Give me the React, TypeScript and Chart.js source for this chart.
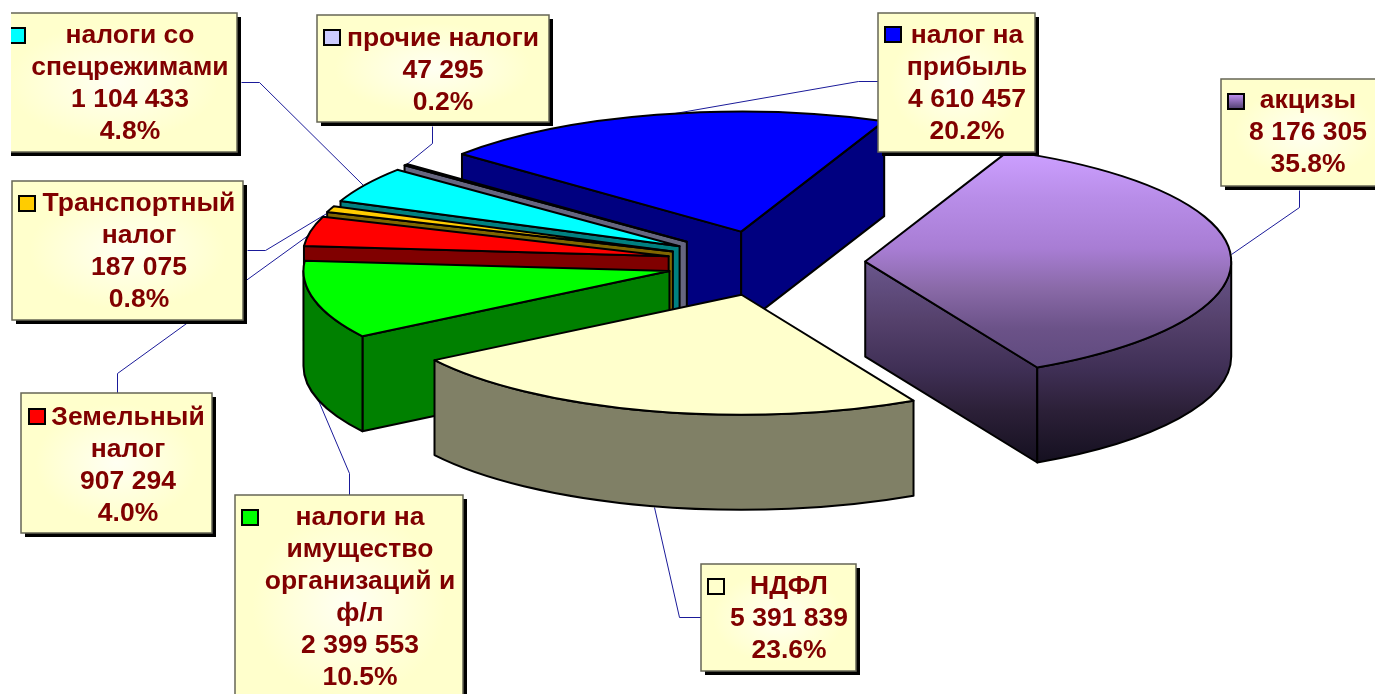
import React, { useEffect, useRef } from "react";
import { Chart, registerables } from "chart.js";

Chart.register(...registerables);

const categories = [
  "акцизы",
  "НДФЛ",
  "налоги на имущество организаций и ф/л",
  "Земельный налог",
  "Транспортный налог",
  "налоги со спецрежимами",
  "прочие налоги",
  "налог на прибыль",
];
const values = [8176305, 5391839, 2399553, 907294, 187075, 1104433, 47295, 4610457];
const percents = ["35.8%", "23.6%", "10.5%", "4.0%", "0.8%", "4.8%", "0.2%", "20.2%"];
const nameLines = [
  ["акцизы"],
  ["НДФЛ"],
  ["налоги на", "имущество", "организаций и", "ф/л"],
  ["Земельный", "налог"],
  ["Транспортный", "налог"],
  ["налоги со", "спецрежимами"],
  ["прочие налоги"],
  ["налог на", "прибыль"],
];
const topColors = ["#cc99ff", "#ffffcc", "#00ff00", "#ff0000", "#ffcc00", "#00ffff", "#ccccff", "#0000ff"];
const wallColors = ["#665080", "#808066", "#008000", "#800000", "#806600", "#008080", "#666680", "#000080"];
const paintOrder = [7, 6, 5, 4, 3, 2, 0, 1];
const explodes = [81, 82, 82, 82, 82, 82, 83, 84.5];
const nudges = [[0, 0], [0, 0], [0, 0], [0, 0], [0, 0], [-1, 0], [-2, 0], [-1.5, 1.5]];

// label layout: box x, y, w, h, text centre, first baseline, key x, key y
const labelLayout = [
  { x: 1221, y: 79, w: 170, h: 107, cx: 1308, base: 108, kx: 1227, ky: 93 },
  { x: 701, y: 564, w: 155, h: 107, cx: 789, base: 594, kx: 707, ky: 578 },
  { x: 235, y: 495, w: 228, h: 220, cx: 360, base: 525, kx: 241, ky: 509 },
  { x: 21, y: 393, w: 191, h: 140, cx: 128, base: 425, kx: 28, ky: 408 },
  { x: 12, y: 181, w: 231, h: 139, cx: 139, base: 211, kx: 18, ky: 195 },
  { x: -10, y: 13, w: 247, h: 139, cx: 130, base: 43, kx: 8, ky: 27 },
  { x: 317, y: 15, w: 232, h: 107, cx: 443, base: 46, kx: 323, ky: 29 },
  { x: 878, y: 13, w: 157, h: 139, cx: 967, base: 43, kx: 884, ky: 26 },
];
const leaders = [
  [[1299, 190], [1299, 207], [1231, 254]],
  [[701, 617], [679, 617], [654, 507]],
  [[349, 495], [349, 473], [315, 393]],
  [[117, 394], [117, 373], [312, 232]],
  [[247, 250], [265, 250], [328, 212]],
  [[241, 82], [259, 82], [363, 185]],
  [[432, 126], [432, 143], [405, 165]],
  [[878, 81], [858, 81], [600, 126]],
];

const PIE_X = 766.5;
const PIE_Y = 263;
const RX = 366;
const RY = 120;
const DEPTH = 95;
const RADIUS = 300;
const TEXT_STRETCH = 1.06;
const FONT = 'bold 25px "Liberation Sans", Arial, sans-serif';

const fmt = (v: number) => String(v).replace(/\B(?=(\d{3})+(?!\d))/g, " ");

function purpleStops(g: CanvasGradient) {
  g.addColorStop(0, "#d2a4ff");
  g.addColorStop(0.05, "#cc9fff");
  g.addColorStop(0.235, "#b88de8");
  g.addColorStop(0.445, "#a87dd4");
  g.addColorStop(0.61, "#8a6aa8");
  g.addColorStop(0.78, "#6b5288");
  g.addColorStop(0.94, "#5f4a7e");
  g.addColorStop(1, "#5a4678");
  return g;
}

const pie3d = {
  id: "pie3d",
  beforeDatasetsDraw(chart: any) {
    const ctx: CanvasRenderingContext2D = chart.ctx;
    const arcs = chart.getDatasetMeta(0).data;
    ctx.save();
    ctx.strokeStyle = "#1a1a99";
    ctx.lineWidth = 1;
    leaders.forEach((pts) => {
      ctx.beginPath();
      pts.forEach((p, i) => (i ? ctx.lineTo(p[0] + 0.5, p[1] + 0.5) : ctx.moveTo(p[0] + 0.5, p[1] + 0.5)));
      ctx.stroke();
    });
    ctx.restore();

    const sx = RX / RADIUS;
    const sy = RY / RADIUS;
    paintOrder.forEach((i) => {
      const arc = arcs[i];
      const a1 = arc.startAngle;
      const a2 = arc.endAngle;
      const mid = (a1 + a2) / 2;
      const ex = explodes[i];
      const [nx, ny] = nudges[i];
      const ax = PIE_X + nx + Math.cos(mid) * ex * sx;
      const ay = PIE_Y + ny + Math.sin(mid) * ex * sy;
      const pt = (a: number) => [ax + Math.cos(a) * RX, ay + Math.sin(a) * RY];
      let wall: any = wallColors[i];
      if (i === 0) {
        const g = ctx.createLinearGradient(0, 262, 0, 462);
        g.addColorStop(0, "#6a568c");
        g.addColorStop(0.29, "#55416c");
        g.addColorStop(0.54, "#3f2f55");
        g.addColorStop(0.74, "#2c2038");
        g.addColorStop(1, "#151020");
        wall = g;
      }
      ctx.save();
      ctx.lineWidth = 2;
      ctx.lineJoin = "round";
      ctx.strokeStyle = "#000";
      ctx.fillStyle = wall;
      // only the radial faces turned towards the viewer are painted
      [
        { a: a1, n: a1 - Math.PI / 2 },
        { a: a2, n: a2 + Math.PI / 2 },
      ].forEach(({ a, n }) => {
        if (Math.sin(n) <= 0) return;
        const p = pt(a);
        ctx.beginPath();
        ctx.moveTo(ax, ay);
        ctx.lineTo(p[0], p[1]);
        ctx.lineTo(p[0], p[1] + DEPTH);
        ctx.lineTo(ax, ay + DEPTH);
        ctx.closePath();
        ctx.fill();
        ctx.stroke();
      });
      [-2, 0, 2].forEach((k) => {
        const lo = Math.max(a1, k * Math.PI);
        const hi = Math.min(a2, (k + 1) * Math.PI);
        if (hi <= lo) return;
        ctx.beginPath();
        ctx.ellipse(ax, ay, RX, RY, 0, lo, hi, false);
        ctx.ellipse(ax, ay + DEPTH, RX, RY, 0, hi, lo, true);
        ctx.closePath();
        ctx.fill();
        ctx.stroke();
      });
      ctx.restore();

      ctx.save();
      ctx.translate(PIE_X + nx, PIE_Y + ny);
      ctx.scale(sx, sy);
      ctx.translate(Math.cos(mid) * ex, Math.sin(mid) * ex);
      ctx.translate(-arc.x, -arc.y);
      arc.draw(ctx);
      ctx.restore();

      ctx.save();
      ctx.lineWidth = 2;
      ctx.lineJoin = "round";
      ctx.strokeStyle = "#000";
      ctx.beginPath();
      ctx.moveTo(ax, ay);
      ctx.ellipse(ax, ay, RX, RY, 0, a1, a2, false);
      ctx.closePath();
      ctx.stroke();
      ctx.restore();
    });
    return false;
  },
  afterDraw(chart: any) {
    const ctx: CanvasRenderingContext2D = chart.ctx;
    ctx.save();
    ctx.beginPath();
    ctx.rect(11, 0, chart.width, chart.height);
    ctx.clip();
    categories.forEach((_, i) => {
      const b = labelLayout[i];
      ctx.fillStyle = "#000";
      ctx.fillRect(b.x + 4, b.y + 4, b.w, b.h);
      ctx.save();
      ctx.translate(b.x + b.w / 2, b.y + b.h / 2);
      ctx.scale(b.w / 2, b.h / 2);
      const g = ctx.createRadialGradient(0, 0, 0, 0, 0, 1);
      g.addColorStop(0, "#fffff2");
      g.addColorStop(0.85, "#ffffcc");
      g.addColorStop(1, "#ffffcc");
      ctx.fillStyle = g;
      ctx.fillRect(-1, -1, 2, 2);
      ctx.restore();
      ctx.strokeStyle = "#666655";
      ctx.lineWidth = 1.5;
      ctx.strokeRect(b.x, b.y, b.w, b.h);

      let keyFill: any = topColors[i];
      if (i === 0) {
        const kg = ctx.createLinearGradient(0, b.ky, 0, b.ky + 16);
        kg.addColorStop(0, "#cc99ff");
        kg.addColorStop(1, "#4f3f6e");
        keyFill = kg;
      }
      ctx.fillStyle = keyFill;
      ctx.fillRect(b.kx + 1, b.ky + 1, 16, 15);
      ctx.strokeStyle = "#000";
      ctx.lineWidth = 2;
      ctx.strokeRect(b.kx + 1, b.ky + 1, 16, 15);

      ctx.fillStyle = "#800000";
      ctx.font = FONT;
      ctx.textAlign = "center";
      ctx.textBaseline = "alphabetic";
      const lines = [...nameLines[i], fmt(values[i]), percents[i]];
      lines.forEach((t, n) => {
        ctx.save();
        ctx.translate(b.cx, b.base + n * 32);
        ctx.scale(TEXT_STRETCH, 1);
        ctx.fillText(t, 0, 0);
        ctx.restore();
      });
    });
    ctx.restore();
  },
};

export default function App() {
  const ref = useRef<HTMLCanvasElement>(null);
  useEffect(() => {
    const chart = new Chart(ref.current as HTMLCanvasElement, {
      type: "pie",
      data: {
        labels: categories,
        datasets: [
          {
            data: values,
            radius: RADIUS,
            borderWidth: 0,
            backgroundColor: (c: any) => {
              if (c.dataIndex !== 0) return topColors[c.dataIndex];
              const mid = c.chart.height / 2;
              return purpleStops(c.chart.ctx.createLinearGradient(0, mid - RADIUS, 0, mid + RADIUS));
            },
          } as any,
        ],
      },
      options: {
        responsive: false,
        animation: false,
        rotation: 23,
        layout: { padding: 0 },
        plugins: { legend: { display: false }, tooltip: { enabled: false }, title: { display: false } },
      },
      plugins: [pie3d as any],
    });
    return () => chart.destroy();
  }, []);
  return (
    <div style={{ position: "fixed", left: 0, top: 0, width: 1375, height: 694, background: "#fff", overflow: "hidden" }}>
      <canvas ref={ref} width={1375} height={694} style={{ display: "block" }} />
    </div>
  );
}
